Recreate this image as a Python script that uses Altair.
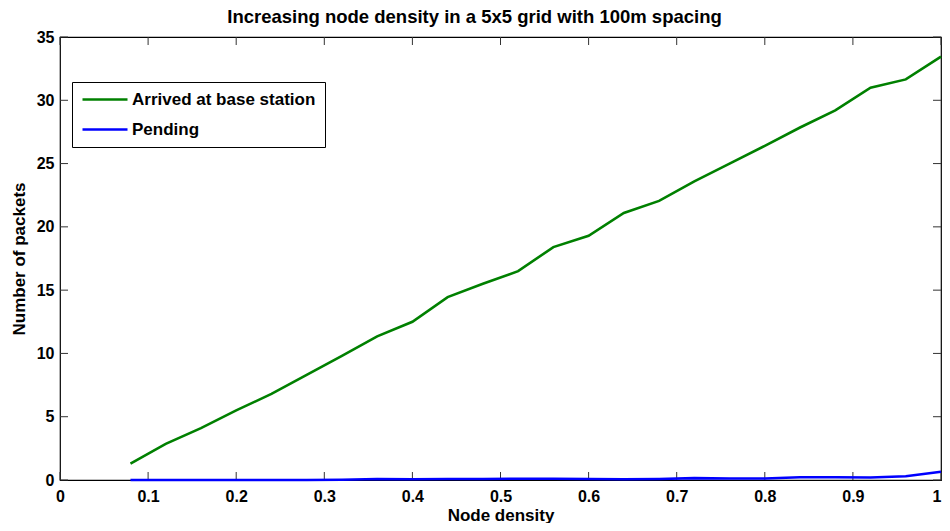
import altair as alt
import pandas as pd

density = [0.08, 0.12, 0.16, 0.20, 0.24, 0.28, 0.32, 0.36, 0.40, 0.44, 0.48, 0.52,
           0.56, 0.60, 0.64, 0.68, 0.72, 0.76, 0.80, 0.84, 0.88, 0.92, 0.96, 1.00]
arrived = [1.3, 2.85, 4.1, 5.5, 6.8, 8.3, 9.8, 11.35, 12.5, 14.45, 15.5, 16.5,
           18.4, 19.3, 21.1, 22.05, 23.6, 25.0, 26.4, 27.85, 29.2, 31.0, 31.65, 33.45]
pending = [0.0, 0.0, 0.0, 0.0, 0.0, 0.0, 0.02, 0.08, 0.06, 0.08, 0.08, 0.1,
           0.1, 0.08, 0.06, 0.08, 0.15, 0.12, 0.12, 0.22, 0.22, 0.2, 0.3, 0.65]
series_names = ["Arrived at base station", "Pending"]
series_colors = ["#008000", "#0000FF"]
x_ticks = [0, 0.1, 0.2, 0.3, 0.4, 0.5, 0.6, 0.7, 0.8, 0.9, 1.0]
y_ticks = [0, 5, 10, 15, 20, 25, 30, 35]

FONT = "Liberation Sans"
W, H = 881, 443

df = pd.concat([
    pd.DataFrame({"x": density, "y": arrived, "series": series_names[0]}),
    pd.DataFrame({"x": density, "y": pending, "series": series_names[1]}),
])

xscale = alt.Scale(domain=[0, 1], nice=False, zero=False)
yscale = alt.Scale(domain=[0, 35], nice=False)

lines = alt.Chart(df).mark_line(strokeWidth=2.6).encode(
    x=alt.X("x:Q", scale=xscale,
            axis=alt.Axis(title="Node density", values=x_ticks, format="~g",
                          tickSize=0, labelPadding=8, titlePadding=3,
                          labelAlign={"expr": "datum.value == 1 ? 'right' : 'center'"},
                          grid=False, domain=False)),
    y=alt.Y("y:Q", scale=yscale,
            axis=alt.Axis(title="Number of packets", values=y_ticks,
                          tickSize=0, labelPadding=6, titlePadding=8,
                          grid=False, domain=False)),
    color=alt.Color("series:N",
                    scale=alt.Scale(domain=series_names, range=series_colors),
                    sort=series_names,
                    legend=alt.Legend(orient="none", legendX=12, legendY=45, title=None,
                                      strokeColor="black", fillColor="white", padding=9,
                                      symbolType="stroke", symbolSize=2025,
                                      symbolStrokeWidth=2.5, clipHeight=17,
                                      rowPadding=12, labelOffset=3,
                                      labelFont=FONT, labelFontSize=17,
                                      labelFontWeight="bold", labelColor="black",
                                      labelLimit=400, cornerRadius=0)),
)

xt = pd.DataFrame({"t": x_ticks})
yt = pd.DataFrame({"t": y_ticks})
tick_color = "#333333"
xb = alt.Chart(xt).mark_rule(color=tick_color, strokeWidth=1).encode(
    x=alt.X("t:Q", scale=xscale), y=alt.value(H), y2=alt.value(H - 8))
xtop = alt.Chart(xt).mark_rule(color=tick_color, strokeWidth=1).encode(
    x=alt.X("t:Q", scale=xscale), y=alt.value(0), y2=alt.value(8))
yl = alt.Chart(yt).mark_rule(color=tick_color, strokeWidth=1).encode(
    y=alt.Y("t:Q", scale=yscale), x=alt.value(0), x2=alt.value(8))
yr = alt.Chart(yt).mark_rule(color=tick_color, strokeWidth=1).encode(
    y=alt.Y("t:Q", scale=yscale), x=alt.value(W), x2=alt.value(W - 8))

chart = alt.layer(xb, xtop, yl, yr, lines).properties(
    width=W, height=H,
    title=alt.TitleParams("Increasing node density in a 5x5 grid with 100m spacing",
                          font=FONT, fontSize=18.5, fontWeight="bold", color="black",
                          anchor="middle", offset=3, dx=-26),
    autosize=alt.AutoSizeParams(type="none"),
    padding={"left": 52, "top": 29, "right": 1, "bottom": 43},
).configure_view(
    stroke="black", strokeWidth=1.2
).configure_axis(
    labelFont=FONT, labelFontSize=16, labelFontWeight="bold", labelColor="black",
    titleFont=FONT, titleFontSize=17, titleFontWeight="bold", titleColor="black",
)

chart.save("out.html", embed_options={"renderer": "svg", "actions": False})
